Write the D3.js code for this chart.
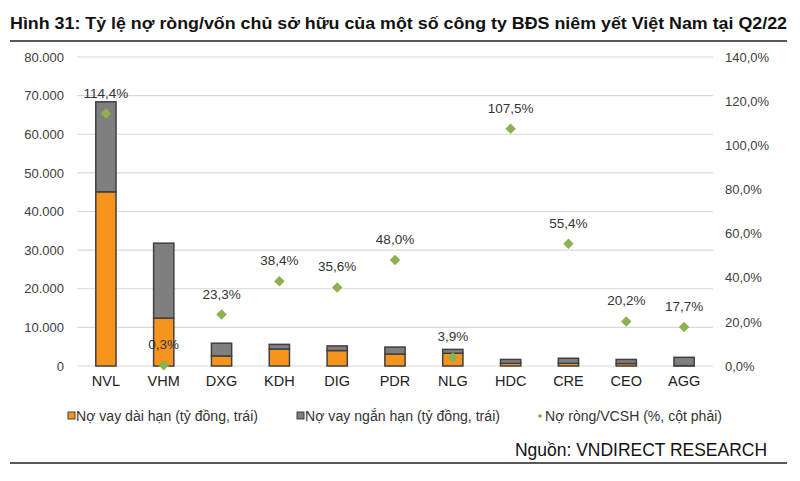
<!DOCTYPE html>
<html>
<head>
<meta charset="utf-8">
<script src="https://cdn.jsdelivr.net/npm/d3@7"></script>
<style>
  body { margin: 0; background: #fff; }
  svg { font-family: "Liberation Sans", Arial, sans-serif; }
</style>
</head>
<body>
<svg id="chart" width="800" height="481"></svg>
<script>
var companies = ['NVL', 'VHM', 'DXG', 'KDH', 'DIG', 'PDR', 'NLG', 'HDC', 'CRE', 'CEO', 'AGG'];
var longTerm  = [45100, 12400, 2600, 4400, 4000, 3100, 3300, 700, 700, 650, 100];
var shortTerm = [23300, 19400, 3300, 1200, 1200, 1800, 1000, 1000, 1300, 1050, 2150];
var netDebtPct = [114.4, 0.3, 23.3, 38.4, 35.6, 48.0, 3.9, 107.5, 55.4, 20.2, 17.7];
var leftTicks = [0, 10000, 20000, 30000, 40000, 50000, 60000, 70000, 80000];
var rightTicks = [0, 20, 40, 60, 80, 100, 120, 140];

(function() {
var svg = d3.select('#chart');
var plotL = 77, plotR = 713, plotT = 57, plotB = 366;

// title + rules
svg.append('text')
  .attr('x', 10).attr('y', 29)
  .attr('font-size', 17).attr('font-weight', 'bold').attr('fill', '#111')
  .attr('textLength', 777).attr('lengthAdjust', 'spacingAndGlyphs')
  .text('Hình 31: Tỷ lệ nợ ròng/vốn chủ sở hữu của một số công ty BĐS niêm yết Việt Nam tại Q2/22');
svg.append('line').attr('x1', 10).attr('x2', 787).attr('y1', 41).attr('y2', 41)
  .attr('stroke', '#222').attr('stroke-width', 1.5);

var x = d3.scaleBand().domain(companies).range([plotL, plotR]).paddingInner(0.65).paddingOuter(0.325);
var y = d3.scaleLinear().domain([0, 80000]).range([plotB, plotT]);
var y2 = d3.scaleLinear().domain([0, 140]).range([plotB, plotT]);

// gridlines
svg.append('g').selectAll('line').data(leftTicks).enter().append('line')
  .attr('x1', plotL).attr('x2', plotR)
  .attr('y1', function(d) { return y(d); }).attr('y2', function(d) { return y(d); })
  .attr('stroke', '#d9d9d9').attr('stroke-width', 1.2);

// left axis
var fmtLeft = function(d) { return d3.format(',')(d).replace(/,/g, '.'); };
svg.append('g').attr('transform', 'translate(64,0)')
  .call(d3.axisLeft(y).tickValues(leftTicks).tickSize(0).tickPadding(0).tickFormat(fmtLeft))
  .call(function(g) { g.select('.domain').remove(); })
  .selectAll('text').attr('font-size', 13).attr('fill', '#404040').attr('font-family', 'Liberation Sans, Arial');

// right axis
svg.append('g').attr('transform', 'translate(725,0)')
  .call(d3.axisRight(y2).tickValues(rightTicks).tickSize(0).tickPadding(0)
    .tickFormat(function(d) { return d.toFixed(1).replace('.', ',') + '%'; }))
  .call(function(g) { g.select('.domain').remove(); })
  .selectAll('text').attr('font-size', 13).attr('fill', '#404040').attr('font-family', 'Liberation Sans, Arial');

// bottom categories
svg.append('g').attr('transform', 'translate(0,' + (plotB + 2) + ')')
  .call(d3.axisBottom(x).tickSize(0).tickPadding(8))
  .call(function(g) { g.select('.domain').remove(); })
  .selectAll('text').attr('font-size', 14.5).attr('fill', '#222').attr('font-family', 'Liberation Sans, Arial');

// stacked bars
var bars = svg.append('g');
companies.forEach(function(c, i) {
  var lt = longTerm[i], st = shortTerm[i];
  bars.append('rect')
    .attr('x', x(c)).attr('width', x.bandwidth())
    .attr('y', y(lt)).attr('height', y(0) - y(lt))
    .attr('fill', '#f7941d').attr('stroke', '#404040').attr('stroke-width', 1.5);
  bars.append('rect')
    .attr('x', x(c)).attr('width', x.bandwidth())
    .attr('y', y(lt + st)).attr('height', y(lt) - y(lt + st))
    .attr('fill', '#7f7f7f').attr('stroke', '#404040').attr('stroke-width', 1.5);
});

// diamonds + labels
var diamond = d3.symbol().type(d3.symbolDiamond2).size(70);
var pts = svg.append('g');
companies.forEach(function(c, i) {
  var cx = x(c) + x.bandwidth() / 2, cy = y2(netDebtPct[i]);
  pts.append('path').attr('d', diamond)
    .attr('transform', 'translate(' + cx + ',' + cy + ')')
    .attr('fill', '#8db14e');
  pts.append('text')
    .attr('x', cx).attr('y', cy - 16)
    .attr('text-anchor', 'middle').attr('font-size', 13.5).attr('fill', '#333')
    .text(netDebtPct[i].toFixed(1).replace('.', ',') + '%');
});

// legend
var legend = [
  { label: 'Nợ vay dài hạn (tỷ đồng, trái)', color: '#f7941d', kind: 'rect', x: 68, w: 182 },
  { label: 'Nợ vay ngắn hạn (tỷ đồng, trái)', color: '#7f7f7f', kind: 'rect', x: 297, w: 195 },
  { label: 'Nợ ròng/VCSH (%, cột phải)', color: '#8db14e', kind: 'dia', x: 537, w: 177 }
];
legend.forEach(function(l) {
  if (l.kind === 'rect') {
    svg.append('rect').attr('x', l.x).attr('y', 412).attr('width', 7).attr('height', 7)
      .attr('fill', l.color).attr('stroke', '#404040').attr('stroke-width', 1);
  } else {
    svg.append('path').attr('d', d3.symbol().type(d3.symbolDiamond2).size(14))
      .attr('transform', 'translate(' + (l.x + 3) + ',416)').attr('fill', l.color);
  }
  svg.append('text').attr('x', l.x + 8).attr('y', 421)
    .attr('font-size', 14).attr('fill', '#333')
    .attr('textLength', l.w).attr('lengthAdjust', 'spacingAndGlyphs').text(l.label);
});

// source
svg.append('text').attr('x', 767).attr('y', 456).attr('text-anchor', 'end')
  .attr('font-size', 17.5).attr('fill', '#111')
  .attr('textLength', 252).attr('lengthAdjust', 'spacingAndGlyphs')
  .text('Nguồn: VNDIRECT RESEARCH');
svg.append('line').attr('x1', 10).attr('x2', 787).attr('y1', 463).attr('y2', 463)
  .attr('stroke', '#222').attr('stroke-width', 1.5);
})();
</script>
</body>
</html>
